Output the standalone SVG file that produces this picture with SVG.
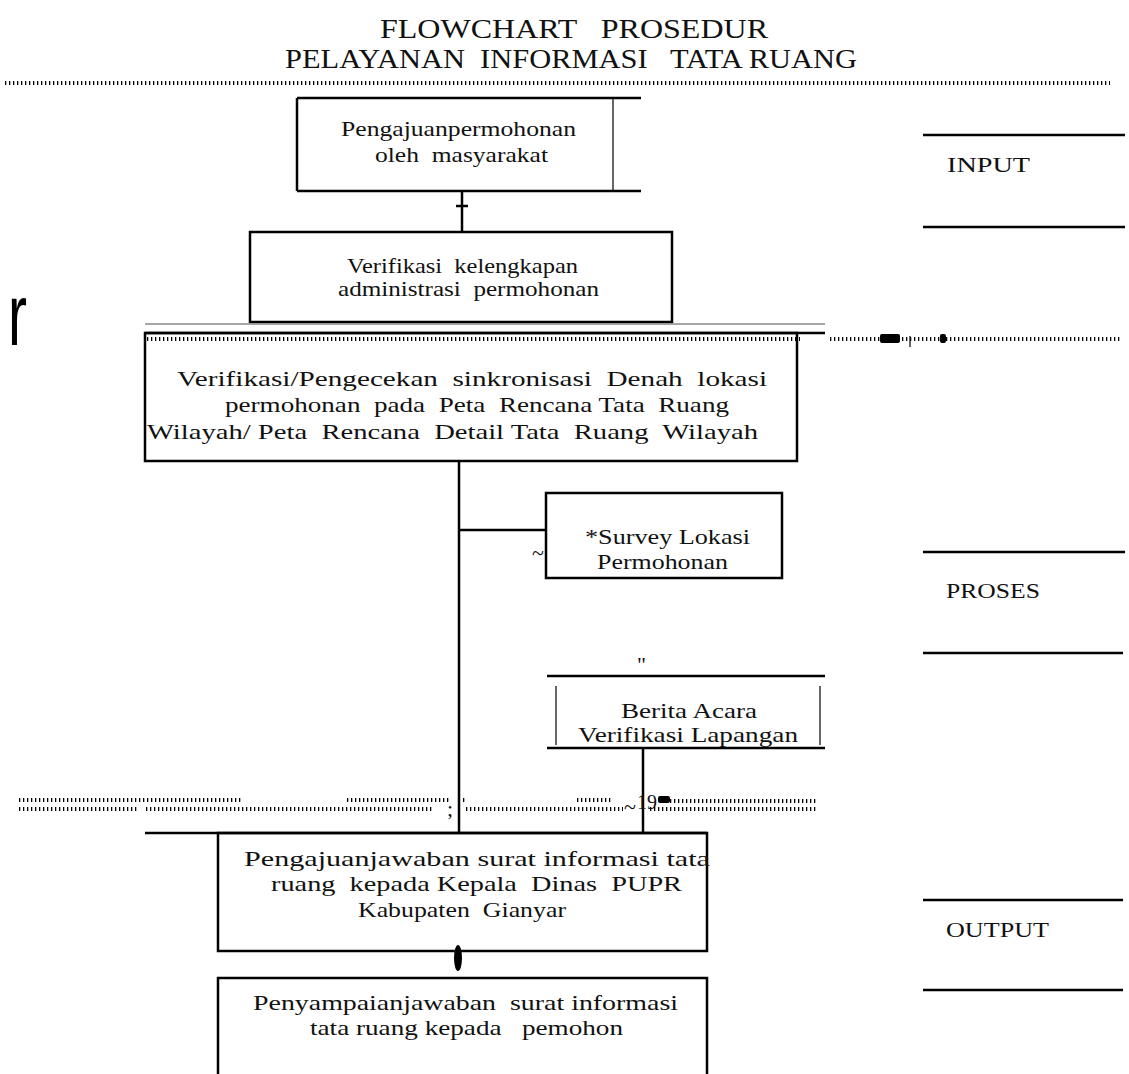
<svg xmlns="http://www.w3.org/2000/svg" width="1129" height="1074" viewBox="0 0 1129 1074">
<style>
text{white-space:pre}
.t{font-family:"Liberation Serif","Times New Roman",serif;font-size:22px;fill:#111}
.ti{font-family:"Liberation Serif","Times New Roman",serif;font-size:28px;fill:#111}
.box{fill:none;stroke:#000;stroke-width:2.5}
.ln{stroke:#000;stroke-width:2.5;fill:none}
.dot{stroke:#000;stroke-width:4;stroke-dasharray:1.3 2.7;fill:none}
.side{stroke:#000;stroke-width:2.5}
</style>
<rect width="1129" height="1074" fill="#fff"/>
<g id="title">
<text class="ti" x="380" y="38" textLength="388" lengthAdjust="spacingAndGlyphs">FLOWCHART   PROSEDUR</text>
<text class="ti" x="285" y="68" textLength="572" lengthAdjust="spacingAndGlyphs">PELAYANAN  INFORMASI   TATA RUANG</text>
<line class="dot" x1="5" y1="83" x2="1110" y2="83"/>
</g>
<g id="connectors">
<line class="ln" x1="462" y1="191" x2="462" y2="232"/>
<line class="ln" x1="456" y1="206" x2="468" y2="206"/>
<line class="ln" x1="459" y1="461" x2="459" y2="833"/>
<line class="ln" x1="459" y1="530" x2="546" y2="530"/>
<line class="ln" x1="643" y1="748" x2="643" y2="833"/>
<ellipse cx="458" cy="958" rx="4" ry="13" fill="#000"/>
</g>
<g id="node-pengajuan">
<line class="ln" x1="297" y1="98" x2="641" y2="98" stroke-width="4"/>
<line class="ln" x1="297" y1="98" x2="297" y2="191"/>
<line class="ln" x1="297" y1="191" x2="641" y2="191"/>
<line x1="613" y1="98" x2="613" y2="191" stroke="#000" stroke-width="1.2"/>
<text class="t" x="341" y="136" textLength="235" lengthAdjust="spacingAndGlyphs">Pengajuanpermohonan</text>
<text class="t" x="375" y="162" textLength="173" lengthAdjust="spacingAndGlyphs">oleh  masyarakat</text>
</g>
<g id="node-verifikasi-admin">
<rect class="box" x="250" y="232" width="422" height="90"/>
<text class="t" x="347" y="273" textLength="231" lengthAdjust="spacingAndGlyphs">Verifikasi  kelengkapan</text>
<text class="t" x="338" y="296" textLength="261" lengthAdjust="spacingAndGlyphs">administrasi  permohonan</text>
</g>
<g id="node-verifikasi-peta">
<line x1="145" y1="324" x2="825" y2="324" stroke="#888" stroke-width="1.5"/>
<line class="ln" x1="145" y1="333" x2="825" y2="333" stroke-width="3"/>
<line class="dot" x1="147" y1="339" x2="800" y2="339" stroke-width="5" stroke-dasharray="1.2 2.8"/>
<rect class="box" x="145" y="333" width="652" height="128"/>
<text class="t" x="177" y="386" textLength="590" lengthAdjust="spacingAndGlyphs">Verifikasi/Pengecekan  sinkronisasi  Denah  lokasi</text>
<text class="t" x="225" y="412" textLength="504" lengthAdjust="spacingAndGlyphs">permohonan  pada  Peta  Rencana Tata  Ruang</text>
<text class="t" x="147" y="439" textLength="611" lengthAdjust="spacingAndGlyphs">Wilayah/ Peta  Rencana  Detail Tata  Ruang  Wilayah</text>
</g>
<g id="node-survey">
<rect class="box" x="546" y="493" width="236" height="85"/>
<text class="t" x="585" y="544" textLength="165" lengthAdjust="spacingAndGlyphs">*Survey Lokasi</text>
<text class="t" x="597" y="569" textLength="131" lengthAdjust="spacingAndGlyphs">Permohonan</text>
<text class="t" x="532" y="560" font-size="14">~</text>
</g>
<g id="node-berita">
<text class="t" x="637" y="672" font-size="16">"</text>
<line class="ln" x1="547" y1="676" x2="825" y2="676"/>
<line x1="556" y1="686" x2="556" y2="745" stroke="#000" stroke-width="1.2"/>
<line x1="820" y1="686" x2="820" y2="745" stroke="#000" stroke-width="1.2"/>
<line class="ln" x1="547" y1="748" x2="825" y2="748"/>
<text class="t" x="621" y="718" textLength="136" lengthAdjust="spacingAndGlyphs">Berita Acara</text>
<text class="t" x="578" y="742" textLength="220" lengthAdjust="spacingAndGlyphs">Verifikasi Lapangan</text>
</g>
<g id="noise">
<text x="8" y="345" font-family="Liberation Sans, Arial, sans-serif" font-size="88" fill="#000" textLength="19" lengthAdjust="spacingAndGlyphs">r</text>
<line class="dot" x1="830" y1="339" x2="1120" y2="339" stroke-width="3"/>
<rect x="880" y="334" width="20" height="9" fill="#000" rx="2"/>
<rect x="940" y="334" width="6" height="9" fill="#000" rx="2"/>
<line x1="910" y1="336" x2="910" y2="347" stroke="#000" stroke-width="1.2"/>
<line class="dot" x1="19" y1="800" x2="241" y2="800" stroke-width="3"/>
<line class="dot" x1="347" y1="800" x2="450" y2="800" stroke-width="3"/>
<line class="dot" x1="463" y1="800" x2="466" y2="800" stroke-width="3"/>
<line class="dot" x1="577" y1="800" x2="612" y2="800" stroke-width="4"/>
<line class="dot" x1="670" y1="801" x2="818" y2="801" stroke-width="1.5"/>
<line class="dot" x1="19" y1="809" x2="138" y2="809" stroke-width="4"/>
<line class="dot" x1="146" y1="809" x2="434" y2="809" stroke-width="4"/>
<line class="dot" x1="466" y1="809" x2="623" y2="809" stroke-width="3"/>
<line class="dot" x1="650" y1="809" x2="818" y2="809" stroke-width="4"/>
<text class="t" x="624" y="814" font-size="16">~</text>
<text class="t" x="637" y="809" font-size="26" textLength="20" lengthAdjust="spacingAndGlyphs">19</text>
<rect x="658" y="796" width="12" height="7" fill="#000" rx="2"/>
<text class="t" x="447" y="816" font-size="14">;</text>
</g>
<g id="node-pengajuan-jawaban">
<line class="ln" x1="145" y1="833" x2="707" y2="833"/>
<rect class="box" x="218" y="833" width="489" height="118"/>
<text class="t" x="244" y="866" textLength="466" lengthAdjust="spacingAndGlyphs">Pengajuanjawaban surat informasi tata</text>
<text class="t" x="271" y="891" textLength="411" lengthAdjust="spacingAndGlyphs">ruang  kepada Kepala  Dinas  PUPR</text>
<text class="t" x="358" y="917" textLength="208" lengthAdjust="spacingAndGlyphs">Kabupaten  Gianyar</text>
</g>
<g id="node-penyampaian">
<polyline class="ln" points="218,1074 218,978 707,978 707,1074"/>
<text class="t" x="253" y="1010" textLength="425" lengthAdjust="spacingAndGlyphs">Penyampaianjawaban  surat informasi</text>
<text class="t" x="310" y="1035" textLength="313" lengthAdjust="spacingAndGlyphs">tata ruang kepada   pemohon</text>
</g>
<g id="side-labels">
<line class="side" x1="923" y1="135" x2="1125" y2="135"/>
<text class="t" x="947" y="172" textLength="83" lengthAdjust="spacingAndGlyphs">INPUT</text>
<line class="side" x1="923" y1="227" x2="1125" y2="227"/>
<line class="side" x1="923" y1="552" x2="1125" y2="552"/>
<text class="t" x="946" y="598" textLength="94" lengthAdjust="spacingAndGlyphs">PROSES</text>
<line class="side" x1="923" y1="653" x2="1123" y2="653"/>
<line class="side" x1="923" y1="900" x2="1123" y2="900"/>
<text class="t" x="946" y="937" textLength="103" lengthAdjust="spacingAndGlyphs">OUTPUT</text>
<line class="side" x1="923" y1="990" x2="1123" y2="990"/>
</g>
</svg>
